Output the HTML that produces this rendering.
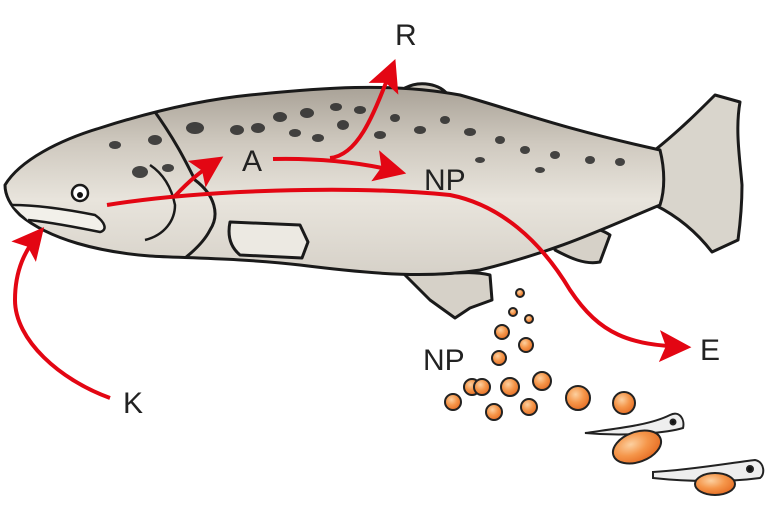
<!DOCTYPE html>
<html><head><meta charset="utf-8"><style>
html,body{margin:0;padding:0;background:#fff;width:769px;height:516px;overflow:hidden}
svg{display:block}
text{font-family:"Liberation Sans","DejaVu Sans",sans-serif;fill:#222;font-size:30px}
</style></head><body>
<svg width="769" height="516" viewBox="0 0 769 516" xmlns="http://www.w3.org/2000/svg">
<defs>
<linearGradient id="bd" x1="0" y1="0" x2="0" y2="1">
<stop offset="0" stop-color="#a9a297"/><stop offset="0.3" stop-color="#cfc9bf"/><stop offset="0.6" stop-color="#e8e4dc"/><stop offset="1" stop-color="#d6d1c8"/>
</linearGradient>
<radialGradient id="egg" cx="0.4" cy="0.35" r="0.7"><stop offset="0" stop-color="#fcd0a0"/><stop offset="0.5" stop-color="#f5964a"/><stop offset="1" stop-color="#e56b22"/></radialGradient>
<marker id="ah" viewBox="0 0 10 10" refX="8" refY="5" markerWidth="8" markerHeight="8" orient="auto"><path d="M0,0 L10,5 L0,10 L2,5z" fill="#e30613"/></marker>
</defs>
<g stroke="#1a1a1a" stroke-width="3" stroke-linejoin="round">
<path d="M655,150 C680,130 700,110 715,95 L740,102 C735,130 740,160 742,185 C742,205 740,225 738,240 L712,252 C695,230 675,215 655,205Z" fill="#d9d5cc"/>
<path d="M405,88 C420,80 440,84 448,95 L445,108 L420,105Z" fill="#cfc9bf"/>
<path d="M565,138 C575,130 595,132 600,140 L580,145Z" fill="#cfc9bf"/>
<path d="M555,235 C575,225 595,225 610,235 L600,262 C585,265 570,258 555,250Z" fill="#d6d1c8"/>
<path d="M400,270 C430,280 460,268 490,275 L492,300 L470,308 L455,318 L430,300Z" fill="#d6d1c8"/>
<path d="M5,185 C20,160 60,140 100,128 C150,112 200,100 250,95 C320,88 390,82 460,95 C520,112 560,128 660,150 C665,170 665,190 660,205 C600,230 560,250 480,270 C430,278 380,275 300,265 C240,258 180,258 150,256 C100,252 50,240 20,215 C10,205 5,195 5,185Z" fill="url(#bd)"/>
<path d="M230,222 L300,225 L308,242 L302,258 L240,255 C228,245 228,232 230,222Z" fill="#ece9e2"/>
<path d="M155,112 C175,140 185,160 195,180 C215,195 220,215 210,230 C205,240 195,250 185,258" fill="none"/>
<path d="M150,165 C165,175 172,190 175,205 C175,220 165,235 145,240" fill="none" stroke-width="2.5"/>
<path d="M12,205 C40,205 70,210 95,215 C105,222 108,230 100,232 C80,228 50,222 28,220" fill="#f2f0ea" stroke-width="2.5"/>
<circle cx="80" cy="193" r="8" fill="#fff" stroke-width="2.5"/><circle cx="80" cy="195" r="3" fill="#111" stroke="none"/>
</g>
<g fill="#2a2a2a" opacity="0.85">
<ellipse cx="195" cy="128" rx="9" ry="6"/><ellipse cx="237" cy="130" rx="7" ry="5"/><ellipse cx="280" cy="117" rx="7" ry="5"/><ellipse cx="307" cy="113" rx="7" ry="5"/><ellipse cx="336" cy="107" rx="6" ry="4"/>
<ellipse cx="258" cy="128" rx="7" ry="5"/><ellipse cx="295" cy="133" rx="6" ry="4"/><ellipse cx="318" cy="138" rx="6" ry="4"/><ellipse cx="343" cy="125" rx="6" ry="5"/><ellipse cx="360" cy="110" rx="6" ry="4"/>
<ellipse cx="155" cy="140" rx="7" ry="5"/><ellipse cx="115" cy="145" rx="6" ry="4"/><ellipse cx="140" cy="172" rx="8" ry="6"/><ellipse cx="168" cy="168" rx="6" ry="4"/>
<ellipse cx="380" cy="135" rx="6" ry="4"/><ellipse cx="395" cy="118" rx="5" ry="4"/><ellipse cx="420" cy="130" rx="6" ry="4"/><ellipse cx="445" cy="120" rx="5" ry="4"/><ellipse cx="470" cy="132" rx="6" ry="4"/><ellipse cx="500" cy="140" rx="5" ry="4"/><ellipse cx="525" cy="150" rx="5" ry="4"/><ellipse cx="555" cy="155" rx="5" ry="4"/><ellipse cx="590" cy="160" rx="5" ry="4"/><ellipse cx="620" cy="162" rx="5" ry="4"/><ellipse cx="480" cy="160" rx="5" ry="3"/><ellipse cx="540" cy="170" rx="5" ry="3"/>
</g>
<g fill="none" stroke="#e30613" stroke-width="4">
<path d="M110,398 C60,380 15,340 15,300 C15,270 25,250 40,232" marker-end="url(#ah)"/>
<path d="M107,205 C200,190 350,185 450,195 C500,205 540,240 570,290 C600,335 630,345 685,347" marker-end="url(#ah)"/>
<path d="M175,196 C190,180 200,172 218,160" marker-end="url(#ah)"/>
<path d="M273,159 C320,158 360,162 400,172" marker-end="url(#ah)"/>
<path d="M330,158 C360,155 375,110 393,65" marker-end="url(#ah)"/>
</g>
<text x="395" y="45">R</text>
<text x="242" y="171">A</text>
<text x="424" y="190">NP</text>
<text x="423" y="370">NP</text>
<text x="700" y="360">E</text>
<text x="123" y="413">K</text>
<g fill="url(#egg)" stroke="#222" stroke-width="2">
<circle cx="520" cy="293" r="4"/><circle cx="513" cy="312" r="4"/><circle cx="529" cy="319" r="4"/><circle cx="502" cy="332" r="7"/><circle cx="526" cy="345" r="7"/><circle cx="499" cy="358" r="7"/>
<circle cx="472" cy="387" r="8"/><circle cx="482" cy="387" r="8"/><circle cx="510" cy="387" r="9"/><circle cx="542" cy="381" r="9"/><circle cx="453" cy="402" r="8"/><circle cx="494" cy="412" r="8"/><circle cx="529" cy="407" r="8"/>
<circle cx="578" cy="398" r="12"/><circle cx="624" cy="403" r="11"/>
</g>
<g stroke="#222" stroke-width="2">
<path d="M585,433 C620,428 650,425 670,415 C680,410 685,420 683,428 C670,432 630,437 585,433Z" fill="#eee"/>
<ellipse cx="637" cy="447" rx="25" ry="15" transform="rotate(-20 637 447)" fill="url(#egg)"/>
<path d="M653,472 C690,470 730,463 755,460 C765,462 765,475 760,478 C730,482 690,482 653,478Z" fill="#eee"/>
<ellipse cx="715" cy="484" rx="20" ry="11" fill="url(#egg)"/>
<circle cx="673" cy="422" r="2.5" fill="#111"/><circle cx="750" cy="469" r="3" fill="#111"/>
</g>
</svg>
</body></html>
